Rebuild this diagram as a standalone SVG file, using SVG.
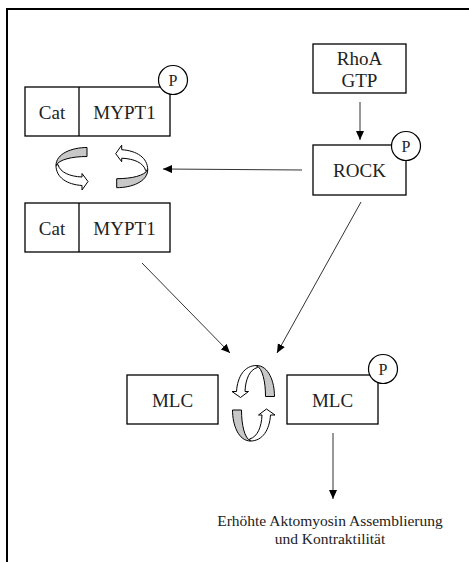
<svg xmlns="http://www.w3.org/2000/svg" width="469" height="562" viewBox="0 0 469 562">
<style>
.box{fill:#fff;stroke:#000;stroke-width:1.3}
.pc{fill:#fff;stroke:#000;stroke-width:1.2}
.t{font-family:"Liberation Serif","Times New Roman",serif;font-size:19px;fill:#222;text-anchor:middle}
.p{font-family:"Liberation Serif","Times New Roman",serif;font-size:16px;fill:#222;text-anchor:middle}
.s{font-family:"Liberation Serif","Times New Roman",serif;font-size:15.5px;fill:#222;text-anchor:middle}
.con{stroke:#333;stroke-width:1;fill:none}
.gray{fill:#c8c8c8;stroke:#000;stroke-width:1;stroke-linejoin:round}
.wht{fill:#fff;stroke:#000;stroke-width:1;stroke-linejoin:round}
</style>
<defs>
<marker id="ah" markerUnits="userSpaceOnUse" markerWidth="10" markerHeight="9" refX="9" refY="4" orient="auto">
<path d="M0,0 L9,4 L0,8 Z" fill="#000"/>
</marker>
<g id="curl">
<path class="gray" d="M15,-21 C0,-21 -16,-15 -16,-3 C-13,-9 0,-12 15,-12 Z"/>
<path class="wht" d="M-16,-3 C-16,9 -5,16 10,17 L10,21.5 L16,13 L10,5 L10,8.5 C-2,8 -12,4 -14,-4 Z"/>
</g>
</defs>
<rect width="469" height="562" fill="#fff"/>
<g id="frame">
<line x1="6" y1="9" x2="469" y2="9" stroke="#000" stroke-width="2"/>
<line x1="7" y1="8" x2="7" y2="562" stroke="#000" stroke-width="2"/>
</g>
<g id="connectors">
<line class="con" x1="360" y1="102" x2="360" y2="140" marker-end="url(#ah)"/>
<line class="con" x1="302" y1="170" x2="163" y2="169" marker-end="url(#ah)"/>
<line class="con" x1="142" y1="263" x2="230" y2="353" marker-end="url(#ah)"/>
<line class="con" x1="361" y1="202" x2="277" y2="353" marker-end="url(#ah)"/>
<line class="con" x1="333" y1="433" x2="333" y2="499" marker-end="url(#ah)"/>
</g>
<g id="node-mypt1-p">
<rect class="box" x="25" y="87" width="145" height="49"/>
<line x1="79" y1="87" x2="79" y2="136" stroke="#000" stroke-width="1.3"/>
<text class="t" x="52" y="119">Cat</text>
<text class="t" x="124.5" y="119">MYPT1</text>
<circle class="pc" cx="173" cy="80" r="14.5"/>
<text class="p" x="173" y="86">P</text>
</g>
<g id="node-mypt1">
<rect class="box" x="25" y="203" width="145" height="49"/>
<line x1="79" y1="203" x2="79" y2="252" stroke="#000" stroke-width="1.3"/>
<text class="t" x="52" y="235">Cat</text>
<text class="t" x="124.5" y="235">MYPT1</text>
</g>
<g id="node-cycle-mypt">
<use href="#curl" transform="translate(72,168.5)"/>
<use href="#curl" transform="translate(131.7,166.7) rotate(180)"/>
</g>
<g id="node-rhoa">
<rect class="box" x="313" y="44" width="93" height="49"/>
<text class="t" x="359.5" y="65">RhoA</text>
<text class="t" x="359.5" y="87">GTP</text>
</g>
<g id="node-rock">
<rect class="box" x="313" y="145" width="93" height="50"/>
<text class="t" x="359.5" y="177">ROCK</text>
<circle class="pc" cx="406" cy="146" r="14.5"/>
<text class="p" x="406" y="152">P</text>
</g>
<g id="node-mlc">
<rect class="box" x="127" y="375" width="91" height="49"/>
<text class="t" x="172.5" y="407">MLC</text>
</g>
<g id="node-mlc-p">
<rect class="box" x="287" y="375" width="91" height="49"/>
<text class="t" x="332.5" y="407">MLC</text>
<circle class="pc" cx="383" cy="369" r="14.5"/>
<text class="p" x="383" y="375">P</text>
</g>
<g id="node-cycle-mlc">
<use href="#curl" transform="translate(253.5,381.5) rotate(90)"/>
<use href="#curl" transform="translate(253.5,425) rotate(-90)"/>
</g>
<g id="node-outcome">
<text class="s" x="330" y="526">Erhöhte Aktomyosin Assemblierung</text>
<text class="s" x="330" y="544">und Kontraktilität</text>
</g>
</svg>
